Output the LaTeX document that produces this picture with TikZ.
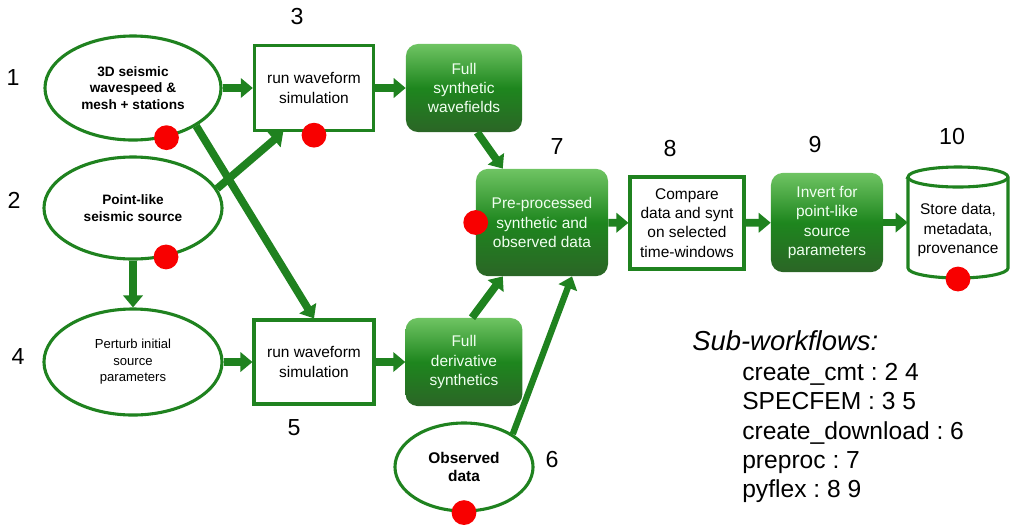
\documentclass[tikz,border=0pt]{standalone}
\usepackage{fontspec}
\setmainfont{Liberation Sans}
\usetikzlibrary{shapes.geometric, positioning, arrows.meta}
\usepackage{xcolor}
\frenchspacing
\definecolor{FlowGreen}{HTML}{1F821F}
\definecolor{BoxTop}{HTML}{6FC463}
\definecolor{BoxMid}{HTML}{1E861E}
\definecolor{BoxBot}{HTML}{2B6526}
\definecolor{SpotRed}{HTML}{F80000}

\tikzset{
  blob/.style={ellipse, draw=FlowGreen, line width=2.2pt, fill=white, align=center, inner sep=0pt},
  simbox/.style={draw=FlowGreen, line width=2.2pt, fill=white, align=center, inner sep=0pt, font=\fontsize{11}{13.7}\selectfont},
  gbox/.style={rounded corners=0.3cm, top color=BoxTop, bottom color=BoxBot, middle color=BoxMid, text=white!94!green, align=center, inner sep=0pt, font=\fontsize{11}{13.7}\selectfont},
  flow/.style={draw=FlowGreen, line width=5.5pt, -{Triangle[length=0.3cm,width=0.48cm]}},
  spot/.style={circle, fill=SpotRed, minimum size=0.62cm, inner sep=0pt},
  stepnum/.style={font=\fontsize{16.5}{18}\selectfont, inner sep=0pt},
  subitem/.style={font=\fontsize{17.5}{20}\selectfont, anchor=base west, inner sep=0pt},
}

\begin{document}
\begin{tikzpicture}[x=0.025cm, y=-0.025cm]
    \useasboundingbox (0,0) rectangle (1010,528);

    % Inputs
    \node[blob, minimum width=4.4cm, minimum height=2.6cm, font=\bfseries\fontsize{9.7}{11.7}\selectfont] (model) at (133,88) {3D seismic\\wavespeed \&\\mesh + stations};
    \node[blob, minimum width=4.45cm, minimum height=2.55cm, font=\bfseries\fontsize{9.7}{11.8}\selectfont] (source) at (133,208) {Point-like\\seismic source};
    \node[blob, minimum width=4.45cm, minimum height=2.65cm, font=\fontsize{9.3}{11.8}\selectfont] (perturb) at (133,362) {Perturb initial\\source\\parameters};
    \node[blob, minimum width=3.45cm, minimum height=2.2cm, font=\bfseries\fontsize{11}{13}\selectfont] (observed) at (464,467) {Observed\\data};

    % Simulations
    \node[simbox, minimum width=2.98cm, minimum height=2.12cm] (simtop) at (314,88) {run waveform\\simulation};
    \node[simbox, minimum width=3.0cm, minimum height=2.1cm] (simbot) at (314,362) {run waveform\\simulation};
    \node[gbox, minimum width=2.9cm, minimum height=2.2cm] (synfull) at (464,88) {Full\\synthetic\\wavefields};
    \node[gbox, minimum width=2.92cm, minimum height=2.2cm] (derfull) at (464,362) {Full\\derivative\\synthetics};

    % Processing chain
    \node[gbox, minimum width=3.3cm, minimum height=2.68cm] (preproc) at (542,222.5) {Pre-processed\\synthetic and\\observed data};
    \node[simbox, minimum width=2.85cm, minimum height=2.3cm] (window) at (687,223) {Compare\\data and synt\\on selected\\time-windows};
    \node[gbox, minimum width=2.8cm, minimum height=2.48cm] (invert) at (827,222.5) {Invert for\\point-like\\source\\parameters};

    % Storage
    \draw[FlowGreen, line width=2.2pt, fill=white] (908,177) -- (908,268) arc[start angle=180, end angle=360, x radius=1.25cm, y radius=0.25cm] -- (1008,177) arc[start angle=0, end angle=180, x radius=1.25cm, y radius=0.25cm] -- cycle;
    \draw[FlowGreen, line width=2.2pt] (908,177) arc[start angle=180, end angle=360, x radius=1.25cm, y radius=0.25cm];
    \node[minimum width=2.5cm, inner sep=0pt, align=center, font=\fontsize{11}{13.7}\selectfont] (store) at (958,230) {Store data,\\metadata,\\provenance};

    % Arrows
    \draw[flow] (model) -- (simtop);
    \draw[flow] (simtop) -- (synfull);
    \draw[flow] (model.-31) -- (simbot.north);
    \draw[flow] (source.13) -- (simtop.-125);
    \draw[flow] (source) -- (perturb);
    \draw[flow] (perturb) -- (simbot);
    \draw[flow] (simbot) -- (derfull);
    \draw[flow] ([xshift=0.33cm]synfull.south) -- ([xshift=-0.98cm]preproc.north);
    \draw[flow] ([xshift=0.2cm]derfull.north) -- ([xshift=-0.98cm]preproc.south);
    \draw[flow, line width=4.5pt] (observed.34) -- ([xshift=0.75cm]preproc.south);
    \draw[flow] (preproc) -- (window);
    \draw[flow] (window) -- (invert);
    \draw[flow] (invert.east) -- (invert.east -| store.west);

    % Red markers
    \node[spot] (dot1) at (model.-56) {};
    \node[spot] (dot2) at (source.-56) {};
    \node[spot] (dot3) at ([yshift=-0.08cm]simtop.south) {};
    \node[spot] (dot7) at (preproc.west) {};
    \node[spot] (dot10) at (958,279) {};
    \node[spot] (dot6) at (observed.south) {};

    % Step numbers
    \node[stepnum] (n1) at (13,78) {1};
    \node[stepnum] (n2) at (14,200) {2};
    \node[stepnum] (n3) at (297,17) {3};
    \node[stepnum] (n4) at (18,357) {4};
    \node[stepnum] (n5) at (294,428) {5};
    \node[stepnum] (n6) at (552,460) {6};
    \node[stepnum] (n7) at (557,147) {7};
    \node[stepnum] (n8) at (670,149) {8};
    \node[stepnum] (n9) at (815,145) {9};
    \node[stepnum] (n10) at (952,137) {10};

    % Legend
    \node[font=\itshape\fontsize{19.5}{22}\selectfont, anchor=base west, inner sep=0pt] (subtitle) at (692,350) {Sub-workflows:};
    \node[subitem] (sub1) at (742,380) {create\_cmt : 2 4};
    \node[subitem] (sub2) at (742,409) {SPECFEM : 3 5};
    \node[subitem] (sub3) at (742,439) {create\_download : 6};
    \node[subitem] (sub4) at (742,468) {preproc : 7};
    \node[subitem] (sub5) at (742,497) {pyflex : 8 9};
\end{tikzpicture}
\end{document}
